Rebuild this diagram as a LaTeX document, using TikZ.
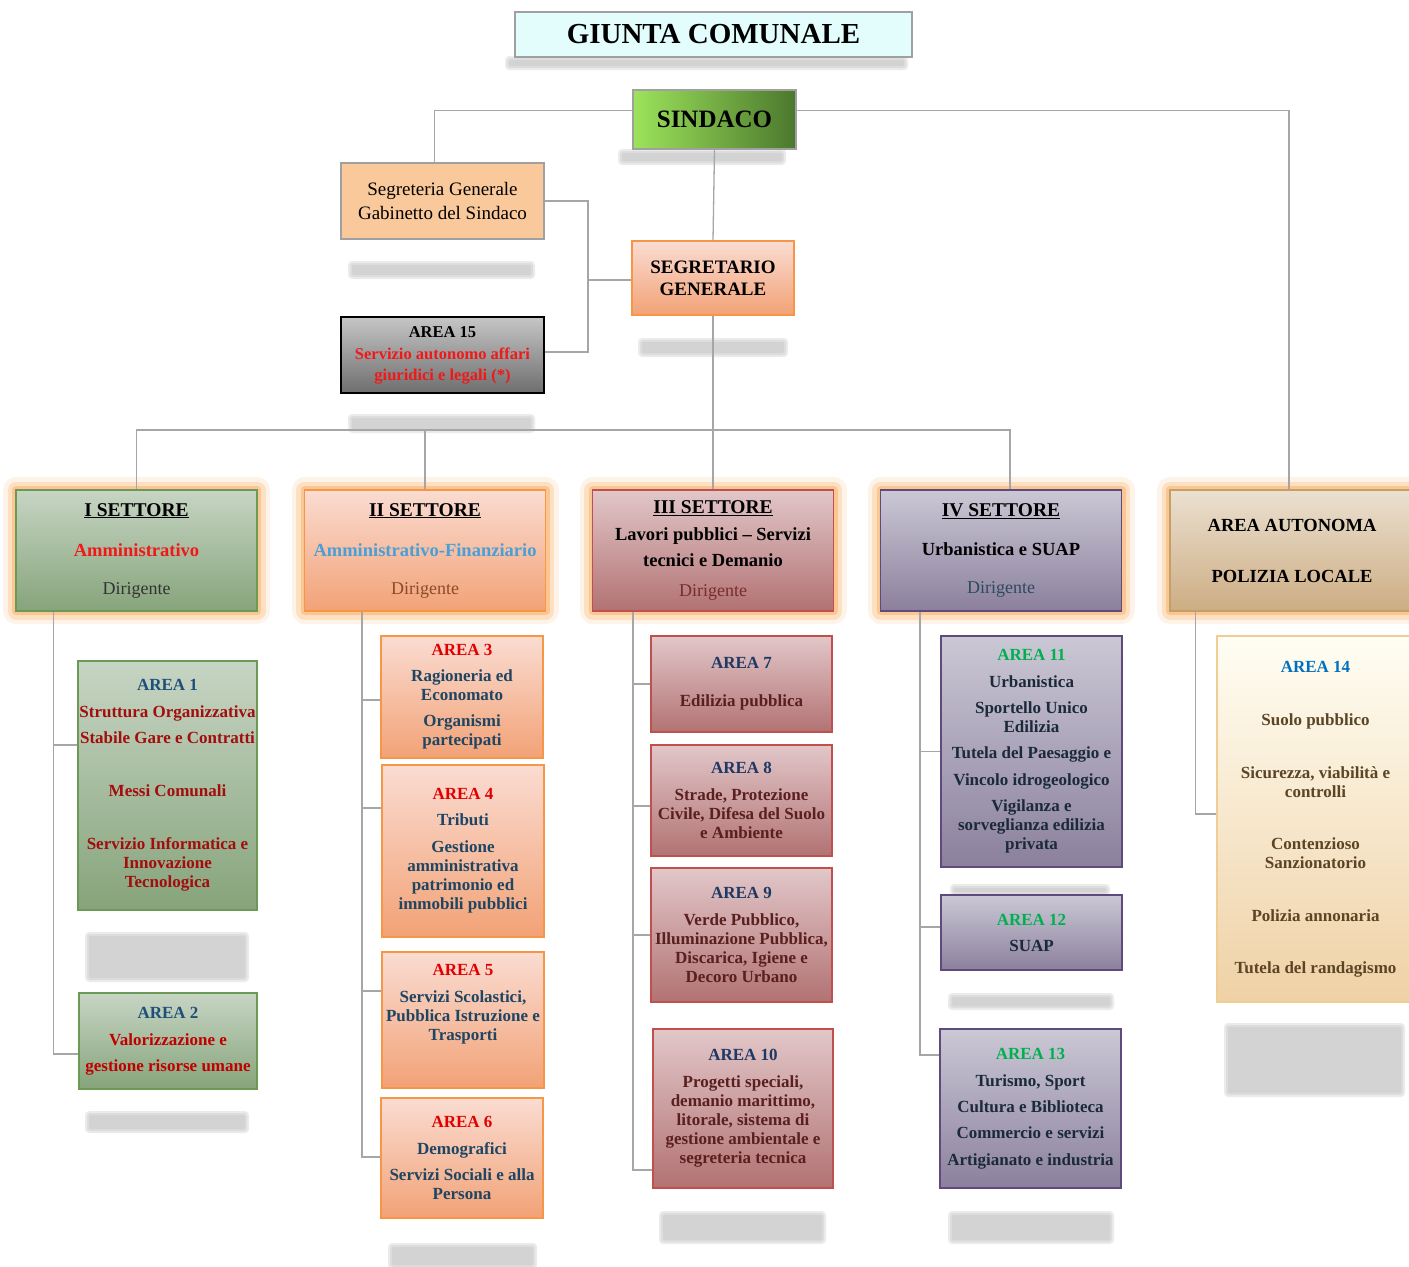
\documentclass[tikz,border=0pt]{standalone}
\usepackage{fontspec}
\setmainfont{Liberation Serif}
\usepackage{tikz}

\definecolor{linee}{HTML}{A6A6A6}
\definecolor{grigiobordo}{HTML}{A0A0A0}
\definecolor{bagl}{HTML}{FBB26A}
\definecolor{ciano}{HTML}{E3FDFD}
\definecolor{verdechiaro}{HTML}{9DE35B}
\definecolor{verdecupo}{HTML}{4B782D}
\definecolor{pesca}{HTML}{FAC99B}
\definecolor{grigiosu}{HTML}{C6C6C6}
\definecolor{grigiogiu}{HTML}{6E6E6E}
\definecolor{verdesu}{HTML}{C7D5C4}
\definecolor{verdegiu}{HTML}{86A47B}
\definecolor{verdebordo}{HTML}{6A9A55}
\definecolor{aransu}{HTML}{FADCD2}
\definecolor{arangiu}{HTML}{F2A276}
\definecolor{aranbordo}{HTML}{F79646}
\definecolor{rosasu}{HTML}{E2C7C9}
\definecolor{rosagiu}{HTML}{B27273}
\definecolor{rosabordo}{HTML}{C0504D}
\definecolor{lillasu}{HTML}{CBC8D5}
\definecolor{lillagiu}{HTML}{8B809D}
\definecolor{lillabordo}{HTML}{604A7B}
\definecolor{sabbiasu}{HTML}{EBE0D1}
\definecolor{sabbiagiu}{HTML}{CDAD83}
\definecolor{sabbiabordo}{HTML}{C4A066}
\definecolor{cremasu}{HTML}{FFFEF4}
\definecolor{cremagiu}{HTML}{EFD1A5}
\definecolor{cremabordo}{HTML}{F0CD95}
% colori dei testi
\definecolor{rossovivo}{HTML}{F01818}
\definecolor{rosso1}{HTML}{A30D0D}
\definecolor{rosso2}{HTML}{C00000}
\definecolor{rosso3}{HTML}{E00000}
\definecolor{blu1}{HTML}{1F4E79}
\definecolor{blu2}{HTML}{1F4563}
\definecolor{blu3}{HTML}{1F3864}
\definecolor{blu5}{HTML}{0070C0}
\definecolor{azzurro}{HTML}{4A9FD8}
\definecolor{marrone}{HTML}{5A1F1F}
\definecolor{verde4}{HTML}{00B050}
\definecolor{notte}{HTML}{1B2A3A}
\definecolor{bruno}{HTML}{5B4525}
\definecolor{dir1}{HTML}{333333}
\definecolor{dir2}{HTML}{8A4B2A}
\definecolor{dir3}{HTML}{7A2C2C}
\definecolor{dir4}{HTML}{2E4A5E}

\newcommand{\ftitolo}{\fontsize{29}{32}\selectfont\bfseries}
\newcommand{\fsindaco}{\fontsize{25}{28}\selectfont\bfseries}
\newcommand{\fsegr}{\fontsize{19}{24}\selectfont}
\newcommand{\fsgen}{\fontsize{19}{22}\selectfont\bfseries}
\newcommand{\fset}{\fontsize{18.5}{21}\selectfont\bfseries}
\newcommand{\fhead}{\fontsize{19.5}{21}\selectfont\bfseries}
\newcommand{\farea}{\fontsize{17}{19}\selectfont\bfseries}
\newcommand{\fquindici}{\fontsize{16.5}{21}\selectfont\bfseries}
\newcommand{\fdir}{\fontsize{18}{21}\selectfont\mdseries}

% macchia grigia sfumata
\newcommand{\sfoca}[4]{%
  \fill[black!25, opacity=0.3, rounded corners=4pt] (#1,#2) rectangle (#3,#4);
  \fill[black!25, opacity=0.3, rounded corners=3pt] (#1+2,#2+2) rectangle (#3-2,#4-2);
  \fill[black!25, opacity=0.3, rounded corners=2pt] (#1+4,#2+4) rectangle (#3-4,#4-4);
}

\tikzstyle{collega}=[draw=linee, line width=1.3pt]
\tikzstyle{riquadro}=[rectangle, align=center, inner sep=1pt, line width=1.3pt]
\tikzstyle{bagliore}=[
        preaction={draw=bagl, line width=26pt, opacity=0.15, line join=round},
        preaction={draw=bagl, line width=17pt, opacity=0.3, line join=round},
        preaction={draw=bagl, line width=8pt, opacity=0.55, line join=round}
]
\tikzstyle{settore}=[riquadro, bagliore, minimum width=241pt, minimum height=121pt, font=\fset]
\tikzstyle{areaverde}=[riquadro, top color=verdesu, bottom color=verdegiu, draw=verdebordo, font=\farea]
\tikzstyle{areaarancio}=[riquadro, top color=aransu, bottom color=arangiu, draw=aranbordo, font=\farea, text=blu2]
\tikzstyle{arearosa}=[riquadro, top color=rosasu, bottom color=rosagiu, draw=rosabordo, font=\farea, text=marrone]
\tikzstyle{arealilla}=[riquadro, top color=lillasu, bottom color=lillagiu, draw=lillabordo, font=\farea, text=notte]
\tikzstyle{areacrema}=[riquadro, top color=cremasu, bottom color=cremagiu, draw=cremabordo, font=\farea, text=bruno]

\begin{document}
\begin{tikzpicture}[x=1pt,y=-1pt]
\useasboundingbox (0,0) rectangle (1409,1267);
\fill[white] (0,0) rectangle (1409,1267);

% ombre e macchie
\sfoca{505}{56}{908}{70}
\sfoca{618}{149}{786}{165}
\sfoca{348}{261}{535}{279}
\sfoca{638}{338}{788}{357}
\sfoca{348}{414}{535}{433}
\sfoca{85}{932}{249}{982}
\sfoca{85}{1111}{249}{1133}
\sfoca{388}{1243}{537}{1269}
\sfoca{659}{1211}{826}{1244}
\sfoca{950}{884}{1110}{896}
\sfoca{948}{993}{1114}{1010}
\sfoca{948}{1211}{1114}{1244}
\sfoca{1224}{1023}{1405}{1097}

% vertice
\node[riquadro, fill=ciano, draw=grigiobordo, minimum width=397pt, minimum height=45pt, font=\ftitolo] (giunta) at (713.5,34.5) {GIUNTA COMUNALE};
\node[riquadro, left color=verdechiaro, right color=verdecupo, draw=grigiobordo, minimum width=163pt, minimum height=59pt, font=\fsindaco] (sindaco) at (714.5,119.5) {SINDACO};
\node[riquadro, fill=pesca, draw=grigiobordo, minimum width=203pt, minimum height=76pt, font=\fsegr] (segreteria) at (442.5,201) {Segreteria Generale\\Gabinetto del Sindaco};
\node[riquadro, top color=aransu, bottom color=arangiu, draw=aranbordo, minimum width=162pt, minimum height=74pt, font=\fsgen] (segretario) at (713,278) {SEGRETARIO\\GENERALE};
\node[riquadro, top color=grigiosu, bottom color=grigiogiu, draw=black, line width=2pt, minimum width=203pt, minimum height=76pt, font=\fquindici] (area15) at (442.5,355) {AREA 15\\[1pt]{\color{rossovivo}Servizio autonomo affari}\\{\color{rossovivo}giuridici e legali (*)}};

% settori
\node[settore, top color=verdesu, bottom color=verdegiu, draw=verdebordo] (settore1) at (136.5,550.5) {{\fhead\underline{I SETTORE}}\\[19pt]{\color{rossovivo}Amministrativo}\\[17pt]{\fdir\color{dir1}Dirigente}};
\node[settore, top color=aransu, bottom color=arangiu, draw=aranbordo] (settore2) at (425,550.5) {{\fhead\underline{II SETTORE}}\\[19pt]{\color{azzurro}Amministrativo-Finanziario}\\[17pt]{\fdir\color{dir2}Dirigente}};
\node[settore, top color=rosasu, bottom color=rosagiu, draw=rosabordo] (settore3) at (713,550.5) {{\fhead\underline{III SETTORE}}\\[6pt]Lavori pubblici – Servizi\\[5pt]tecnici e Demanio\\[9pt]{\fdir\color{dir3}Dirigente}};
\node[settore, top color=lillasu, bottom color=lillagiu, draw=lillabordo] (settore4) at (1001,550.5) {{\fhead\underline{IV SETTORE}}\\[18pt]Urbanistica e SUAP\\[17pt]{\fdir\color{dir4}Dirigente}};
\node[settore, top color=sabbiasu, bottom color=sabbiagiu, draw=sabbiabordo, minimum width=244pt] (polizia) at (1292,550.5) {AREA AUTONOMA\\[30pt]POLIZIA LOCALE};

% aree I settore
\node[areaverde, text=rosso1, minimum width=179pt, minimum height=249pt] (a1) at (167.5,785.5) {{\color{blu1}AREA 1}\\[8pt]Struttura Organizzativa\\[7pt]Stabile Gare e Contratti\\[34pt]Messi Comunali\\[34pt]Servizio Informatica e\\Innovazione\\Tecnologica};
\node[areaverde, text=rosso2, minimum width=178pt, minimum height=96pt] (a2) at (168,1041) {{\color{blu1}AREA 2}\\[8pt]Valorizzazione e\\[7pt]gestione risorse umane};

% aree II settore
\node[areaarancio, minimum width=162pt, minimum height=122pt] (a3) at (462,697) {{\color{rosso3}AREA 3}\\[7pt]Ragioneria ed\\Economato\\[7pt]Organismi\\partecipati};
\node[areaarancio, minimum width=162pt, minimum height=172pt] (a4) at (463,851) {{\color{rosso3}AREA 4}\\[7pt]Tributi\\[8pt]Gestione\\amministrativa\\patrimonio ed\\immobili pubblici};
\node[areaarancio, minimum width=162pt, minimum height=136pt] (a5) at (463,1020) {{\color{rosso3}AREA 5}\\[8pt]Servizi Scolastici,\\Pubblica Istruzione e\\Trasporti\\[16pt]{}};
\node[areaarancio, minimum width=162pt, minimum height=120pt] (a6) at (462,1158) {{\color{rosso3}AREA 6}\\[8pt]Demografici\\[7pt]Servizi Sociali e alla\\Persona};

% aree III settore
\node[arearosa, minimum width=181pt, minimum height=96pt] (a7) at (741.5,684) {{\color{blu3}AREA 7}\\[19pt]Edilizia pubblica};
\node[arearosa, minimum width=181pt, minimum height=111pt] (a8) at (741.5,800.5) {{\color{blu3}AREA 8}\\[8pt]Strade, Protezione\\Civile, Difesa del Suolo\\e Ambiente};
\node[arearosa, minimum width=181pt, minimum height=134pt] (a9) at (741.5,935) {{\color{blu3}AREA 9}\\[8pt]Verde Pubblico,\\Illuminazione Pubblica,\\Discarica, Igiene e\\Decoro Urbano};
\node[arearosa, minimum width=180pt, minimum height=159pt] (a10) at (743,1108.5) {{\color{blu3}AREA 10}\\[8pt]Progetti speciali,\\demanio marittimo,\\litorale, sistema di\\gestione ambientale e\\segreteria tecnica};

% aree IV settore
\node[arealilla, minimum width=181pt, minimum height=231pt] (a11) at (1031.5,751.5) {{\color{verde4}AREA 11}\\[8pt]Urbanistica\\[7pt]Sportello Unico\\Edilizia\\[7pt]Tutela del Paesaggio e\\[8pt]Vincolo idrogeologico\\[7pt]Vigilanza e\\sorveglianza edilizia\\privata};
\node[arealilla, minimum width=181pt, minimum height=75pt] (a12) at (1031.5,932.5) {{\color{verde4}AREA 12}\\[7pt]SUAP};
\node[arealilla, minimum width=181pt, minimum height=159pt] (a13) at (1030.5,1108.5) {{\color{verde4}AREA 13}\\[8pt]Turismo, Sport\\[7pt]Cultura e Biblioteca\\[7pt]Commercio e servizi\\[8pt]Artigianato e industria};

% area polizia
\node[areacrema, minimum width=197pt, minimum height=366pt] (a14) at (1315.5,819) {{\color{blu5}AREA 14}\\[34pt]Suolo pubblico\\[34pt]Sicurezza, viabilità e\\controlli\\[33pt]Contenzioso\\Sanzionatorio\\[34pt]Polizia annonaria\\[33pt]Tutela del randagismo};

% collegamenti
\draw[collega] ([yshift=9pt]sindaco.west) -| ([xshift=-8pt]segreteria.north);
\draw[collega] ([yshift=9pt]sindaco.east) -| ([xshift=-3pt]polizia.north);
\draw[collega] (sindaco.south) -- (segretario.north);
\coordinate (nodosegr) at (588,280);
\draw[collega] (segreteria.east) -| (nodosegr) |- ([yshift=3pt]area15.east);
\draw[collega] ([yshift=-2pt]segretario.west) -- (nodosegr);
\coordinate (bus) at (713,430);
\draw[collega] (segretario.south) -- (bus);
\draw[collega] (settore1.north) |- (bus) -| ([xshift=9pt]settore4.north);
\draw[collega] (settore2.north) -- (settore2.north |- bus);
\draw[collega] (settore3.north) -- (settore3.north |- bus);

\draw[collega] ([yshift=40.5pt]a1.west) -| ([xshift=38pt]settore1.south west);
\draw[collega] ([yshift=-13pt]a2.west) -| ([xshift=38pt]settore1.south west);

\draw[collega] ([yshift=-3pt]a3.west) -| ([xshift=58pt]settore2.south west);
\draw[collega] ([yshift=43pt]a4.west) -| ([xshift=58pt]settore2.south west);
\draw[collega] ([yshift=29pt]a5.west) -| ([xshift=58pt]settore2.south west);
\draw[collega] ([yshift=1pt]a6.west) -| ([xshift=58pt]settore2.south west);

\draw[collega] (a7.west) -| ([xshift=41pt]settore3.south west);
\draw[collega] ([yshift=-5.5pt]a8.west) -| ([xshift=41pt]settore3.south west);
\draw[collega] (a9.west) -| ([xshift=41pt]settore3.south west);
\draw[collega] ([yshift=-61.5pt]a10.west) -| ([xshift=41pt]settore3.south west);

\draw[collega] (a11.west) -| ([xshift=40pt]settore4.south west);
\draw[collega] ([yshift=5.5pt]a12.west) -| ([xshift=40pt]settore4.south west);
\draw[collega] ([yshift=53.5pt]a13.west) -| ([xshift=40pt]settore4.south west);

\draw[collega] ([xshift=26pt]polizia.south west) |- ([yshift=5pt]a14.west);
\end{tikzpicture}
\end{document}
